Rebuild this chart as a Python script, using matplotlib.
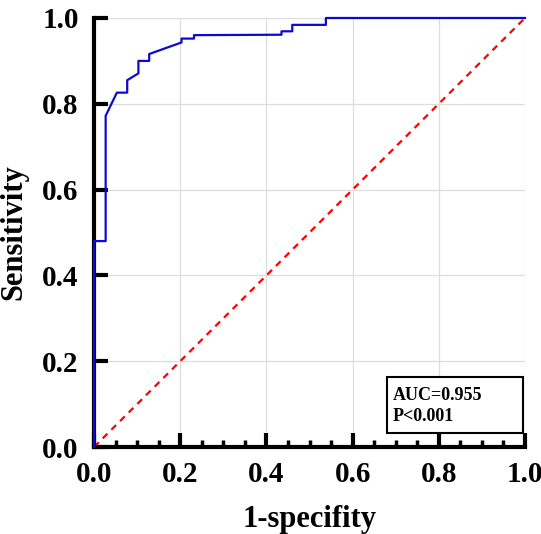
import matplotlib.pyplot as plt
from matplotlib.ticker import MultipleLocator
from matplotlib.patches import Rectangle

plt.rcParams['font.family'] = ['Liberation Serif', 'DejaVu Serif']
plt.rcParams['font.weight'] = 'bold'

# ROC curve points
fpr = [0.0, 0.0, 0.027, 0.027, 0.053, 0.077, 0.077, 0.103, 0.103, 0.128, 0.128,
       0.203, 0.203, 0.232, 0.232, 0.435, 0.435, 0.460, 0.460, 0.538, 0.538, 1.0]
tpr = [0.0, 0.480, 0.480, 0.772, 0.826, 0.826, 0.855, 0.871, 0.900, 0.900, 0.916,
       0.943, 0.952, 0.952, 0.960, 0.961, 0.969, 0.969, 0.984, 0.984, 1.0, 1.0]
ref_line = [0.0, 1.0]
ticks = [0.0, 0.2, 0.4, 0.6, 0.8, 1.0]
auc_lines = ["AUC=0.955", "P<0.001"]

fig = plt.figure(figsize=(5.41, 5.34), dpi=100)
ax = fig.add_axes([0.1738, 0.1629, 0.7966, 0.8034])

ax.grid(True, color='#dddddd', linewidth=0.9)
ax.set_axisbelow(True)
ax.plot(ref_line, ref_line, color='red', linestyle=(0, (3, 2.5)), linewidth=1.6, clip_on=False)
ax.plot(fpr, tpr, color='#0a0ad2', linewidth=1.6, clip_on=False, zorder=4)

ax.set_xlim(0, 1)
ax.set_ylim(0, 1)
ax.set_xticks(ticks)
ax.set_yticks(ticks)
ax.xaxis.set_minor_locator(MultipleLocator(0.05))
ax.tick_params(which='major', direction='in', length=10, width=3, labelsize=21)
ax.tick_params(axis='x', which='major', pad=10)
ax.tick_params(axis='y', which='major', pad=11)
ax.tick_params(axis='x', which='minor', direction='in', length=5, width=2.5)
ax.tick_params(axis='y', which='minor', left=False)
for lab in ax.get_xticklabels() + ax.get_yticklabels():
    lab.set_fontweight('bold')

for side in ['top', 'right']:
    ax.spines[side].set_visible(False)
for side in ['left', 'bottom']:
    ax.spines[side].set_linewidth(3)

ax.set_xlabel("1-specifity", fontsize=22, fontweight='bold', labelpad=12)
ax.set_ylabel("Sensitivity", fontsize=22, fontweight='bold', labelpad=10)

# annotation box
ax.add_patch(Rectangle((0.680, 0.033), 0.315, 0.130, transform=ax.transAxes,
                       facecolor='white', edgecolor='black', linewidth=1.5, zorder=5))
ax.text(0.694, 0.121, auc_lines[0], transform=ax.transAxes, fontsize=13,
        fontweight='bold', va='center', ha='left', zorder=6)
ax.text(0.694, 0.071, auc_lines[1], transform=ax.transAxes, fontsize=13,
        fontweight='bold', va='center', ha='left', zorder=6)

fig.savefig("out.png", dpi=100)
